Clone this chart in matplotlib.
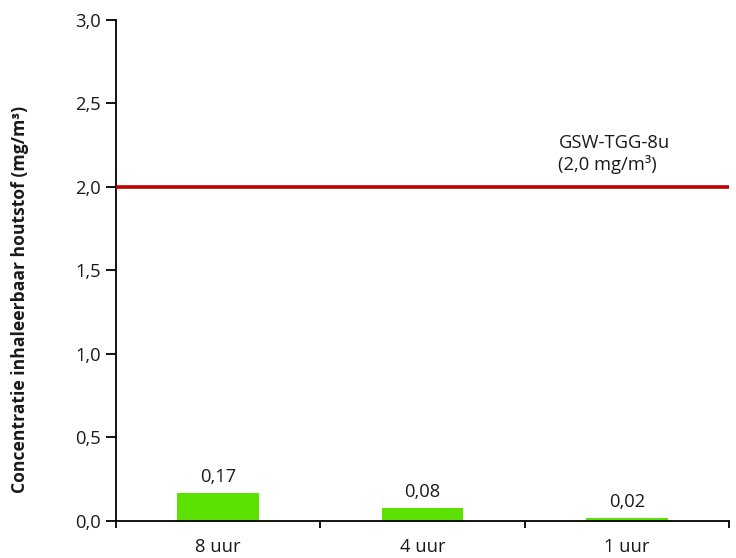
import matplotlib
matplotlib.use("Agg")
import matplotlib.pyplot as plt
import numpy as np

plt.rcParams['font.family'] = ['Open Sans', 'DejaVu Sans']

# data
categories = ["8 uur", "4 uur", "1 uur"]
values = [0.17, 0.08, 0.02]
value_labels = ["0,17", "0,08", "0,02"]
limit_value = 2.0
limit_label = "GSW-TGG-8u\n(2,0 mg/m³)"
yticks = [0.0, 0.5, 1.0, 1.5, 2.0, 2.5, 3.0]

fs = 13.2
txt = "#1a1a1a"

fig = plt.figure(figsize=(7.36, 5.58), dpi=100)
ax = fig.add_axes([0.1576, 0.0663, 0.8329, 0.8979])

x = np.arange(len(categories))
ax.bar(x, values, width=0.4, color="#5BE000", zorder=2)
for xi, v, lab in zip(x, values, value_labels):
    ax.annotate(lab, (xi, v), xytext=(0, 5), textcoords="offset points",
                ha="center", va="bottom", fontsize=fs, color=txt)

ax.axhline(limit_value, color="#C00000", lw=2.6, zorder=3)
ax.text(1.665, 2.075, limit_label, ha="left", va="bottom", fontsize=fs,
        color=txt, linespacing=1.25, multialignment="left")

ax.set_xlim(-0.5, 2.5)
ax.set_ylim(0, 3.0)
ax.set_yticks(yticks)
ax.set_yticklabels([f"{t:.1f}".replace(".", ",") for t in yticks])
ax.set_xticks([-0.5, 0.5, 1.5, 2.5])
ax.set_xticklabels([])
ax.set_xticks(x, minor=True)
ax.set_xticklabels(categories, minor=True)
ax.tick_params(axis="x", which="minor", length=0, pad=12, labelsize=fs,
               labelcolor=txt)
ax.tick_params(axis="x", which="major", length=5, width=1.3, direction="out")
ax.tick_params(axis="y", length=7, width=1.3, labelsize=fs, pad=4,
               labelcolor=txt)

ax.set_ylabel("Concentratie inhaleerbaar houtstof (mg/m³)",
              fontsize=12.6, fontweight="bold", color=txt)
ax.yaxis.set_label_coords(-0.142, 0.443)

for s in ["top", "right"]:
    ax.spines[s].set_visible(False)
for s in ["left", "bottom"]:
    ax.spines[s].set_linewidth(1.3)

fig.savefig("out.png", dpi=100)
